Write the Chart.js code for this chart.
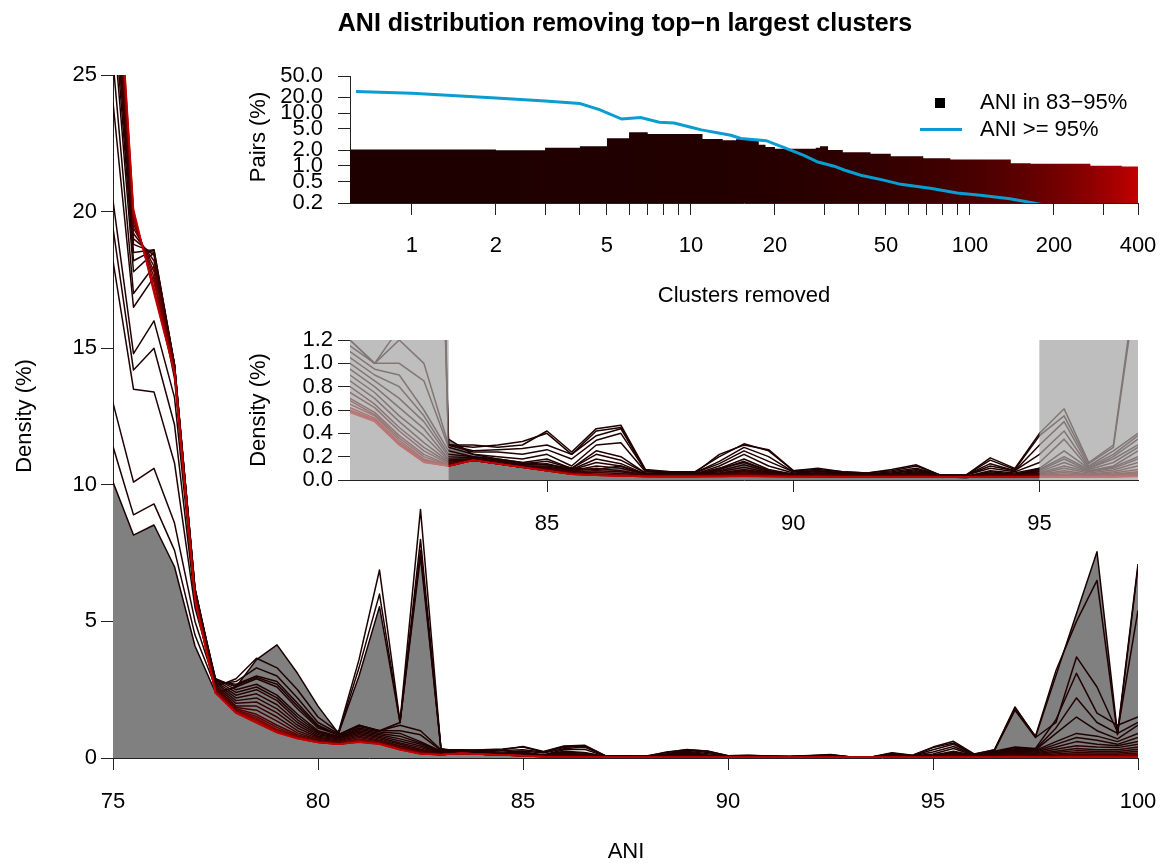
<!DOCTYPE html>
<html>
<head>
<meta charset="utf-8">
<title>ANI distribution removing top-n largest clusters</title>
<script src="https://cdn.jsdelivr.net/npm/chart.js@4.4.1/dist/chart.umd.min.js"></script>
<style>
  html, body { margin: 0; padding: 0; background: #fff; }
  #wrap { position: relative; width: 1162px; height: 863px; }
  #wrap canvas { position: absolute; left: 0; top: 0; }
</style>
</head>
<body>
<div id="wrap">
  <canvas id="mainChart" width="1162" height="863"></canvas>
  <canvas id="pairsChart" width="1162" height="863"></canvas>
  <canvas id="zoomChart" width="1162" height="863"></canvas>
</div>
<script>
// ANI grid shared by every density curve
const ani = [75, 75.5, 76, 76.5, 77, 77.5, 78, 78.5, 79, 79.5, 80, 80.5, 81, 81.5, 82, 82.5, 83, 83.5, 84, 84.5,
  85, 85.5, 86, 86.5, 87, 87.5, 88, 88.5, 89, 89.5, 90, 90.5, 91, 91.5, 92, 92.5, 93, 93.5, 94, 94.5,
  95, 95.5, 96, 96.5, 97, 97.5, 98, 98.5, 99, 99.5, 100];

// number of largest clusters removed for each curve (0 = full data, grey area)
const removedN = [0, 1, 2, 3, 4, 5, 8, 10, 15, 20, 30, 45, 60, 90, 120, 160, 200, 250, 300, 350, 400];

// density (%) per ANI bin, one array per curve
const d000 = [10.1, 8.16, 8.53, 7.0, 4.1, 2.4, 2.6, 3.6, 4.14, 3.1, 1.9, 0.9, 3.0, 5.54, 1.3, 7.37, 0.35,
  0.22, 0.18, 0.15, 0.13, 0.1, 0.09, 0.12, 0.05, 0.05, 0.04, 0.1, 0.15, 0.08, 0.05, 0.05, 0.04, 0.03, 0.03, 0.04, 0.03, 0.02, 0.05, 0.04,
  0.1, 0.2, 0.1, 0.3, 1.87, 0.77, 3.03, 5.29, 7.55, 0.9, 7.1];
const d001 = [11.4, 8.9, 9.3, 7.6, 4.5, 2.6, 2.9, 3.65, 3.3, 2.5, 1.5, 0.95, 3.6, 6.88, 1.33, 9.1, 0.3,
  0.3, 0.28, 0.3, 0.42, 0.24, 0.44, 0.47, 0.09, 0.07, 0.07, 0.2, 0.31, 0.25, 0.08, 0.1, 0.07, 0.06, 0.09, 0.13, 0.04, 0.04, 0.19, 0.1,
  0.4, 0.61, 0.15, 0.3, 1.82, 0.8, 3.2, 5.0, 6.5, 0.85, 7.0];
const d002 = [13.0, 10.1, 10.6, 8.6, 5.0, 2.7, 2.8, 3.3, 3.0, 2.2, 1.3, 0.9, 3.3, 6.0, 1.3, 8.0, 0.3,
  0.28, 0.3, 0.33, 0.4, 0.22, 0.42, 0.45, 0.08, 0.07, 0.06, 0.22, 0.3, 0.26, 0.08, 0.09, 0.07, 0.06, 0.08, 0.12, 0.04, 0.04, 0.17, 0.09,
  0.38, 0.55, 0.14, 0.28, 1.75, 0.75, 1.3, 3.7, 2.6, 0.95, 5.4];
const d003 = [18.2, 13.5, 13.4, 10.8, 5.5, 2.8, 2.7, 3.0, 2.8, 2.0, 1.2, 0.85, 1.2, 1.0, 1.3, 7.6, 0.3,
  0.25, 0.26, 0.27, 0.3, 0.22, 0.38, 0.44, 0.08, 0.06, 0.06, 0.16, 0.28, 0.2, 0.07, 0.08, 0.06, 0.05, 0.07, 0.1, 0.04, 0.04, 0.14, 0.08,
  0.3, 0.5, 0.12, 0.25, 0.4, 0.35, 1.4, 3.1, 1.64, 1.2, 1.5];
const d004 = [19.4, 14.2, 15.0, 12.2, 5.7, 2.85, 2.65, 2.95, 2.7, 1.9, 1.15, 0.85, 1.2, 1.0, 1.2, 1.0, 0.3,
  0.24, 0.24, 0.22, 0.26, 0.18, 0.34, 0.4, 0.08, 0.06, 0.06, 0.14, 0.25, 0.16, 0.07, 0.08, 0.06, 0.05, 0.06, 0.09, 0.04, 0.04, 0.12, 0.08,
  0.22, 0.42, 0.11, 0.22, 0.38, 0.32, 1.1, 2.2, 1.3, 0.9, 1.3];
const d005 = [20.4, 14.8, 16.0, 13.2, 5.9, 2.9, 2.6, 2.9, 2.6, 1.8, 1.1, 0.85, 1.15, 1.0, 1.0, 0.85, 0.28,
  0.22, 0.2, 0.18, 0.22, 0.12, 0.3, 0.32, 0.07, 0.06, 0.05, 0.12, 0.22, 0.12, 0.06, 0.07, 0.06, 0.05, 0.06, 0.08, 0.04, 0.04, 0.1, 0.07,
  0.15, 0.35, 0.1, 0.2, 0.35, 0.3, 0.9, 1.5, 1.0, 0.7, 1.2];
const d008 = [24.0, 16.5, 17.6, 13.9, 6.1, 2.9, 2.5, 2.7, 2.3, 1.6, 1.0, 0.8, 1.1, 0.95, 0.9, 0.6, 0.25,
  0.2, 0.18, 0.15, 0.18, 0.1, 0.25, 0.2, 0.06, 0.05, 0.05, 0.1, 0.18, 0.09, 0.05, 0.06, 0.05, 0.04, 0.05, 0.07, 0.04, 0.03, 0.08, 0.06,
  0.1, 0.25, 0.1, 0.18, 0.3, 0.28, 0.6, 0.9, 0.8, 0.6, 0.9];
const d010 = [25.5, 17.0, 18.0, 14.1, 6.1, 2.85, 2.4, 2.6, 2.2, 1.5, 0.95, 0.78, 1.05, 0.9, 0.8, 0.55, 0.22,
  0.2, 0.17, 0.14, 0.16, 0.1, 0.22, 0.17, 0.06, 0.05, 0.05, 0.09, 0.16, 0.08, 0.05, 0.06, 0.05, 0.04, 0.05, 0.06, 0.035, 0.03, 0.07, 0.05,
  0.09, 0.2, 0.09, 0.15, 0.28, 0.25, 0.5, 0.75, 0.65, 0.5, 0.75];
const d015 = [27.0, 17.8, 18.5, 14.3, 6.2, 2.8, 2.3, 2.5, 2.1, 1.4, 0.9, 0.75, 1.0, 0.85, 0.7, 0.5, 0.2,
  0.19, 0.16, 0.13, 0.14, 0.09, 0.18, 0.14, 0.05, 0.05, 0.05, 0.08, 0.13, 0.07, 0.05, 0.05, 0.05, 0.04, 0.05, 0.06, 0.03, 0.03, 0.06, 0.05,
  0.08, 0.18, 0.08, 0.12, 0.25, 0.22, 0.4, 0.6, 0.5, 0.45, 0.6];
const d020 = [27.8, 18.2, 18.6, 14.4, 6.2, 2.75, 2.2, 2.35, 1.95, 1.3, 0.85, 0.72, 0.95, 0.8, 0.62, 0.44, 0.18,
  0.18, 0.15, 0.12, 0.12, 0.085, 0.15, 0.12, 0.05, 0.045, 0.045, 0.07, 0.11, 0.065, 0.045, 0.05, 0.045, 0.04, 0.045, 0.055, 0.03, 0.03, 0.055, 0.045,
  0.07, 0.15, 0.075, 0.11, 0.2, 0.18, 0.32, 0.45, 0.4, 0.38, 0.5];
const d030 = [28.5, 18.5, 18.6, 14.4, 6.2, 2.7, 2.1, 2.2, 1.8, 1.2, 0.8, 0.7, 0.9, 0.75, 0.55, 0.38, 0.17,
  0.18, 0.15, 0.12, 0.11, 0.08, 0.12, 0.1, 0.05, 0.04, 0.04, 0.06, 0.09, 0.06, 0.04, 0.05, 0.04, 0.04, 0.04, 0.05, 0.03, 0.03, 0.05, 0.04,
  0.06, 0.12, 0.07, 0.1, 0.18, 0.16, 0.25, 0.35, 0.3, 0.3, 0.4];
const d045 = [29.0, 18.8, 18.5, 14.4, 6.15, 2.65, 2.0, 2.05, 1.65, 1.1, 0.76, 0.66, 0.85, 0.7, 0.5, 0.32, 0.16,
  0.18, 0.15, 0.12, 0.1, 0.075, 0.1, 0.08, 0.045, 0.04, 0.04, 0.055, 0.08, 0.055, 0.04, 0.045, 0.04, 0.035, 0.04, 0.045, 0.03, 0.03, 0.045, 0.04,
  0.055, 0.1, 0.06, 0.085, 0.15, 0.13, 0.2, 0.27, 0.24, 0.24, 0.32];
const d060 = [29.5, 19.0, 18.4, 14.4, 6.1, 2.6, 1.9, 1.9, 1.5, 1.0, 0.72, 0.62, 0.8, 0.65, 0.45, 0.28, 0.15,
  0.18, 0.15, 0.12, 0.1, 0.07, 0.08, 0.07, 0.04, 0.04, 0.04, 0.05, 0.07, 0.05, 0.04, 0.04, 0.04, 0.03, 0.04, 0.04, 0.03, 0.03, 0.04, 0.04,
  0.05, 0.08, 0.05, 0.07, 0.12, 0.1, 0.15, 0.2, 0.18, 0.18, 0.25];
const d090 = [30.0, 19.2, 18.2, 14.35, 6.05, 2.55, 1.85, 1.75, 1.35, 0.92, 0.68, 0.59, 0.75, 0.62, 0.42, 0.25, 0.14,
  0.17, 0.14, 0.11, 0.095, 0.065, 0.065, 0.055, 0.04, 0.035, 0.035, 0.045, 0.06, 0.045, 0.035, 0.04, 0.035, 0.03, 0.035, 0.04, 0.03, 0.03, 0.04, 0.035,
  0.045, 0.065, 0.045, 0.06, 0.09, 0.08, 0.11, 0.15, 0.14, 0.14, 0.18];
const d120 = [30.5, 19.4, 18.0, 14.3, 6.0, 2.5, 1.8, 1.6, 1.2, 0.85, 0.65, 0.56, 0.7, 0.58, 0.38, 0.22, 0.13,
  0.17, 0.14, 0.11, 0.09, 0.06, 0.05, 0.04, 0.035, 0.035, 0.035, 0.04, 0.05, 0.04, 0.035, 0.035, 0.03, 0.03, 0.03, 0.035, 0.03, 0.03, 0.035, 0.03,
  0.04, 0.05, 0.04, 0.05, 0.07, 0.06, 0.08, 0.1, 0.1, 0.1, 0.12];
const d160 = [30.8, 19.55, 17.8, 14.25, 5.95, 2.48, 1.76, 1.52, 1.12, 0.8, 0.62, 0.54, 0.68, 0.56, 0.36, 0.2, 0.125,
  0.17, 0.14, 0.11, 0.085, 0.058, 0.048, 0.04, 0.032, 0.032, 0.032, 0.037, 0.045, 0.037, 0.032, 0.032, 0.03, 0.03, 0.03, 0.032, 0.028, 0.028, 0.032, 0.03,
  0.035, 0.045, 0.035, 0.045, 0.06, 0.05, 0.065, 0.08, 0.08, 0.08, 0.09];
const d200 = [31.0, 19.7, 17.6, 14.2, 5.9, 2.45, 1.72, 1.45, 1.05, 0.78, 0.6, 0.52, 0.65, 0.55, 0.34, 0.18, 0.12,
  0.17, 0.14, 0.11, 0.08, 0.055, 0.045, 0.04, 0.03, 0.03, 0.03, 0.035, 0.04, 0.035, 0.03, 0.03, 0.03, 0.03, 0.03, 0.03, 0.025, 0.025, 0.03, 0.03,
  0.03, 0.04, 0.03, 0.04, 0.05, 0.04, 0.05, 0.06, 0.06, 0.06, 0.07];
const d250 = [31.2, 19.8, 17.4, 14.15, 5.85, 2.42, 1.7, 1.4, 1.0, 0.75, 0.59, 0.51, 0.62, 0.53, 0.32, 0.17, 0.12,
  0.17, 0.14, 0.11, 0.08, 0.052, 0.042, 0.037, 0.03, 0.03, 0.03, 0.032, 0.037, 0.032, 0.03, 0.03, 0.028, 0.028, 0.028, 0.028, 0.025, 0.025, 0.028, 0.028,
  0.028, 0.035, 0.03, 0.035, 0.045, 0.035, 0.045, 0.05, 0.05, 0.05, 0.06];
const d300 = [31.5, 19.9, 17.2, 14.1, 5.8, 2.4, 1.67, 1.35, 0.97, 0.73, 0.58, 0.5, 0.6, 0.52, 0.31, 0.16, 0.12,
  0.17, 0.14, 0.11, 0.08, 0.05, 0.04, 0.035, 0.03, 0.03, 0.03, 0.03, 0.035, 0.03, 0.03, 0.03, 0.025, 0.025, 0.025, 0.025, 0.025, 0.025, 0.025, 0.025,
  0.025, 0.03, 0.03, 0.03, 0.04, 0.03, 0.04, 0.04, 0.04, 0.04, 0.05];
const d350 = [31.8, 20.0, 17.1, 14.1, 5.8, 2.38, 1.65, 1.3, 0.94, 0.71, 0.57, 0.5, 0.59, 0.51, 0.3, 0.155, 0.12,
  0.17, 0.14, 0.11, 0.08, 0.05, 0.04, 0.035, 0.03, 0.03, 0.03, 0.03, 0.032, 0.03, 0.028, 0.028, 0.025, 0.025, 0.025, 0.025, 0.025, 0.025, 0.025, 0.025,
  0.025, 0.028, 0.028, 0.028, 0.035, 0.03, 0.035, 0.035, 0.035, 0.035, 0.04];
const d400 = [32.0, 20.1, 17.0, 14.1, 5.8, 2.37, 1.64, 1.28, 0.92, 0.7, 0.57, 0.5, 0.58, 0.5, 0.3, 0.15, 0.12,
  0.17, 0.14, 0.11, 0.08, 0.05, 0.04, 0.035, 0.03, 0.03, 0.03, 0.03, 0.03, 0.03, 0.025, 0.025, 0.025, 0.025, 0.025, 0.025, 0.025, 0.025, 0.025, 0.025,
  0.025, 0.025, 0.025, 0.025, 0.03, 0.03, 0.03, 0.03, 0.03, 0.03, 0.03];
const curves = [d000, d001, d002, d003, d004, d005, d008, d010, d015, d020, d030, d045, d060, d090, d120, d160, d200, d250, d300, d350, d400];

// inset: % of pairs vs clusters removed
const midStart = [0.6, 2, 3, 4, 5, 6, 7, 11, 13, 14.5, 17.5, 18.5, 20, 28, 29, 31, 35, 44, 52, 68, 85, 140, 165, 270, 350, 400];
const midPct = [2.04, 1.98, 2.22, 2.36, 3.33, 4.32, 4.0, 3.23, 3.05, 3.2, 2.52, 2.28, 2.12, 2.2, 2.35, 2.0, 1.81, 1.7, 1.53, 1.4, 1.33, 1.13, 1.1, 1.01, 0.98, 0.98];
const highN = [0.63, 1, 2, 3, 4, 4.7, 5.65, 6.6, 7.7, 8.7, 10, 10.9, 13.9, 15.1, 18.6, 21.6, 25.4, 28.5, 32.6, 35.4, 40.6, 49, 56.5, 72, 90, 109, 139, 169, 200];
const highPct = [25.4, 23.6, 19.2, 16.9, 15.1, 11.6, 7.7, 8.2, 6.7, 6.5, 5.4, 4.8, 3.8, 3.3, 3.0, 2.22, 1.59, 1.19, 0.99, 0.84, 0.67, 0.54, 0.45, 0.38, 0.31, 0.28, 0.24, 0.2, 0.17];

// ticks
const mainXTicks = [75, 80, 85, 90, 95, 100];
const mainYTicks = [0, 5, 10, 15, 20, 25];
const clusterTicks = [1, 2, 5, 10, 20, 50, 100, 200, 400];
const clusterMinor = [3, 4, 6, 7, 8, 9, 30, 40, 60, 70, 80, 90, 300];
const pairTicks = [0.2, 0.5, 1, 2, 5, 10, 20, 50];
const zoomXTicks = [85, 90, 95];
const zoomYTicks = [0, 0.2, 0.4, 0.6, 0.8, 1.0, 1.2];
const shadeRanges = [[81, 83], [95, 97]];

Chart.defaults.font.family = "'Liberation Sans', Arial, Helvetica, sans-serif";
Chart.defaults.font.size = 22;
Chart.defaults.color = '#000';

function rampColor(n) {
    const t = Math.min(n / 400, 1);
    return 'rgb(' + Math.round(30 + (196 - 30) * t) + ',0,0)';
}

function densityDatasets() {
    return curves.map((vals, i) => ({
        label: 'top-' + removedN[i] + ' removed',
        data: ani.map((a, j) => ({ x: a, y: vals[j] })),
        borderColor: i === 0 ? '#1a0000' : rampColor(removedN[i]),
        backgroundColor: '#808080',
        fill: i === 0 ? 'origin' : false,
        borderWidth: 1.5,
        borderJoinStyle: 'round',
        pointRadius: 0,
        tension: 0,
        order: curves.length - i
    }));
}

function fixedTicks(list) {
    return scale => { scale.ticks = list.map(v => ({ value: v })); };
}

// force the axis box size and drop the label overflow padding so the plot area lands where we want
function boxSize(w, h) {
    return scale => {
        if (w !== null) scale.width = w;
        if (h !== null) scale.height = h;
        scale.paddingLeft = 0;
        scale.paddingRight = 0;
        scale.paddingTop = 0;
        scale.paddingBottom = 0;
    };
}

function axis(opts) {
    return Object.assign({
        grid: { drawOnChartArea: false, tickLength: 12, color: '#222' },
        border: { color: '#222' }
    }, opts);
}

function textPlugin(id, items) {
    return {
        id: id,
        afterDraw(chart) {
            const ctx = chart.ctx;
            items.forEach(t => {
                ctx.save();
                ctx.font = t.font || "22px 'Liberation Sans', Arial, sans-serif";
                ctx.fillStyle = '#000';
                ctx.textAlign = 'center';
                ctx.textBaseline = 'middle';
                ctx.translate(t.x, t.y);
                if (t.rotate) ctx.rotate(-Math.PI / 2);
                ctx.fillText(t.text, 0, 0);
                ctx.restore();
            });
        }
    };
}

const baseOptions = {
    responsive: false,
    animation: false,
    devicePixelRatio: 1,
    plugins: { legend: { display: false }, tooltip: { enabled: false } }
};

// Main density plot
new Chart(document.getElementById('mainChart'), {
    type: 'line',
    data: { datasets: densityDatasets() },
    options: Object.assign({}, baseOptions, {
        layout: { padding: { top: 75, right: 24, bottom: 0, left: 0 } },
        scales: {
            x: axis({
                type: 'linear', min: 75, max: 100,
                afterBuildTicks: fixedTicks(mainXTicks),
                afterFit: boxSize(null, 105),
                ticks: { maxRotation: 0, autoSkip: false, padding: 19 }
            }),
            y: axis({
                type: 'linear', min: 0, max: 25,
                afterBuildTicks: fixedTicks(mainYTicks),
                afterFit: boxSize(113, null),
                ticks: { autoSkip: false, padding: 4 }
            })
        }
    }),
    plugins: [textPlugin('mainText', [
        { text: 'ANI distribution removing top\u2212n largest clusters', x: 625, y: 24, font: "bold 25px 'Liberation Sans', Arial, sans-serif" },
        { text: 'ANI', x: 626, y: 852 },
        { text: 'Density (%)', x: 25, y: 416, rotate: true }
    ])]
});

// Inset: pairs vs clusters removed
const legendPlugin = {
    id: 'pairsLegend',
    afterDraw(chart) {
        const ctx = chart.ctx;
        const ds = chart.data.datasets;
        ctx.save();
        ctx.font = "22px 'Liberation Sans', Arial, sans-serif";
        ctx.textBaseline = 'middle';
        ctx.textAlign = 'left';
        ctx.fillStyle = '#000';
        ctx.fillRect(935, 98, 10, 10);
        ctx.fillText(ds[0].label, 980, 103);
        ctx.strokeStyle = ds[1].borderColor;
        ctx.lineWidth = ds[1].borderWidth;
        ctx.beginPath();
        ctx.moveTo(920, 129.5);
        ctx.lineTo(962, 129.5);
        ctx.stroke();
        ctx.fillText(ds[1].label, 980, 130);
        ctx.restore();
    }
};

new Chart(document.getElementById('pairsChart'), {
    type: 'line',
    data: {
        datasets: [{
            label: 'ANI in 83\u221295%',
            data: midStart.map((n, i) => ({ x: n, y: midPct[i] })),
            stepped: 'before',
            fill: 'start',
            borderWidth: 0,
            borderColor: 'rgba(0,0,0,0)',
            pointRadius: 0,
            backgroundColor: function(context) {
                const chart = context.chart;
                const area = chart.chartArea;
                if (!area || !chart.scales.x) return '#1e0000';
                const xs = chart.scales.x;
                const g = chart.ctx.createLinearGradient(area.left, 0, area.right, 0);
                const stops = [0.6, 1, 2, 5, 10, 20, 50, 75, 100, 125, 150, 175, 200, 225, 250, 275, 300, 325, 350, 375, 400];
                stops.forEach(n => {
                    const p = (xs.getPixelForValue(n) - area.left) / (area.right - area.left);
                    g.addColorStop(Math.min(Math.max(p, 0), 1), rampColor(n));
                });
                return g;
            },
            order: 2
        }, {
            label: 'ANI >= 95%',
            data: highN.map((n, i) => ({ x: n, y: highPct[i] })),
            borderColor: '#0a9dd2',
            borderWidth: 3,
            pointRadius: 0,
            tension: 0,
            fill: false,
            order: 1
        }]
    },
    options: Object.assign({}, baseOptions, {
        layout: { padding: { top: 76, right: 24, bottom: 0, left: 0 } },
        scales: {
            x: axis({
                type: 'logarithmic', min: 0.6, max: 400,
                afterBuildTicks: fixedTicks(clusterTicks.concat(clusterMinor).sort((a, b) => a - b)),
                afterFit: boxSize(null, 660),
                ticks: {
                    maxRotation: 0, autoSkip: false, padding: 18,
                    callback: v => clusterTicks.includes(v) ? String(v) : ''
                }
            }),
            y: axis({
                type: 'logarithmic', min: 0.2, max: 50,
                afterBuildTicks: fixedTicks(pairTicks),
                afterFit: boxSize(350, null),
                ticks: { autoSkip: false, padding: 15, callback: v => Number(v).toFixed(1) }
            })
        }
    }),
    plugins: [legendPlugin, textPlugin('pairsText', [
        { text: 'Pairs (%)', x: 259, y: 137, rotate: true },
        { text: 'Clusters removed', x: 744, y: 296 }
    ])]
});

// Inset: zoom on 81-97 ANI with shaded excluded ranges
function paintShade(chart, colour) {
    const { ctx, chartArea: a, scales } = chart;
    ctx.save();
    ctx.fillStyle = colour;
    shadeRanges.forEach(r => {
        const x0 = scales.x.getPixelForValue(r[0]);
        const x1 = scales.x.getPixelForValue(r[1]);
        ctx.fillRect(x0, a.top, x1 - x0, a.bottom - a.top);
    });
    ctx.restore();
}

const shadePlugin = {
    id: 'shade',
    afterDatasetDraw(chart, args) {
        if (args.index === 0) paintShade(chart, 'rgb(190,190,190)');
    },
    afterDatasetsDraw(chart) {
        paintShade(chart, 'rgba(190,190,190,0.62)');
    }
};

new Chart(document.getElementById('zoomChart'), {
    type: 'line',
    data: { datasets: densityDatasets() },
    options: Object.assign({}, baseOptions, {
        layout: { padding: { top: 340, right: 24, bottom: 0, left: 0 } },
        scales: {
            x: axis({
                type: 'linear', min: 81, max: 97,
                afterBuildTicks: fixedTicks(zoomXTicks),
                afterFit: boxSize(null, 383),
                ticks: { maxRotation: 0, autoSkip: false, padding: 19 }
            }),
            y: axis({
                type: 'linear', min: 0, max: 1.2,
                afterBuildTicks: fixedTicks(zoomYTicks),
                afterFit: boxSize(350, null),
                ticks: { autoSkip: false, padding: 5, callback: v => Number(v).toFixed(1) }
            })
        }
    }),
    plugins: [shadePlugin, textPlugin('zoomText', [
        { text: 'Density (%)', x: 259, y: 410, rotate: true }
    ])]
});
</script>
</body>
</html>
